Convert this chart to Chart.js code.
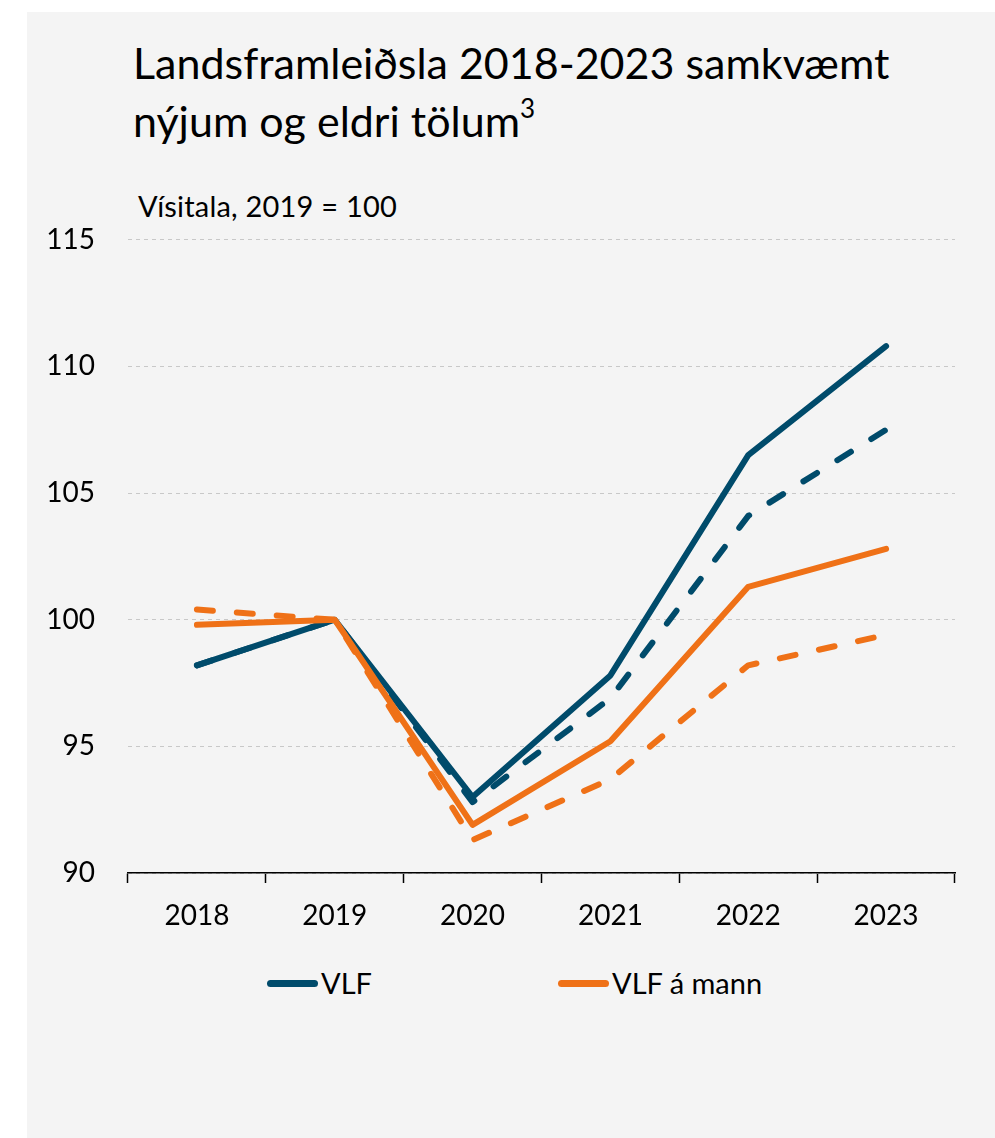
<!DOCTYPE html>
<html>
<head>
<meta charset="utf-8">
<script src="https://cdn.jsdelivr.net/npm/chart.js@4"></script>
<style>
	body { margin: 0; background: #fff; font-family: Lato, "Open Sans", sans-serif; color: #000; }
	#panel { position: absolute; left: 27px; top: 12px; width: 968px; height: 1126px; background: #f4f4f4; }
	#title { position: absolute; left: 133px; top: 34px; font-size: 43px; line-height: 58px; white-space: nowrap; }
	#title sup { font-size: 26px; line-height: 0; vertical-align: 19px; }
	#subtitle { position: absolute; left: 138px; top: 189px; font-size: 29px; line-height: 34px; letter-spacing: 0.2px; white-space: nowrap; }
	#chart { position: absolute; left: 27px; top: 190px; }
	#legend { position: absolute; left: 267px; top: 966px; display: flex; }
	.item { display: flex; align-items: center; font-size: 29px; line-height: 34px; }
	.item .swatch { width: 51px; height: 7px; border-radius: 4px; margin-right: 3px; }
</style>
</head>
<body>
<div id="panel"></div>
<div id="title">Landsframleiðsla 2018-2023 samkvæmt<br>nýjum og eldri tölum<sup>3</sup></div>
<div id="subtitle">Vísitala, 2019 = 100</div>
<canvas id="chart" width="968" height="765"></canvas>
<div id="legend"></div>
<script>
const years = ["2018", "2019", "2020", "2021", "2022", "2023"];
// nýjar tölur (heil lína) og eldri tölur (brotin lína)
const vlfNew = [98.2, 100, 93.0, 97.8, 106.5, 110.8];
const vlfOld = [98.2, 100, 92.8, 96.9, 104.1, 107.5];
const perCapitaNew = [99.8, 100, 91.9, 95.2, 101.3, 102.8];
const perCapitaOld = [100.4, 100, 91.3, 93.7, 98.2, 99.4];
const yTicks = [90, 95, 100, 105, 110, 115];

const blue = "#004b6b";
const orange = "#ef7117";
const tickFont = { family: "Lato", size: 28 };

function line(label, data, color, dashed, legend) {
	return {
		label: label,
		data: data,
		borderColor: color,
		backgroundColor: color,
		borderWidth: 6,
		borderDash: dashed ? [16, 24] : [],
		borderCapStyle: "round",
		borderJoinStyle: "round",
		pointRadius: 0,
		tension: 0,
		showInLegend: legend,
	};
}

function drawChart() {
	const ctx = document.getElementById("chart").getContext("2d");
	const chart = new Chart(ctx, {
		type: "line",
		data: {
			labels: years,
			datasets: [
				line("VLF á mann", perCapitaNew, orange, false, true),
				line("VLF á mann (eldri)", perCapitaOld, orange, true, false),
				line("VLF", vlfNew, blue, false, true),
				line("VLF (eldri)", vlfOld, blue, true, false),
			],
		},
		options: {
			responsive: false,
			animation: false,
			layout: { padding: { top: 33, right: 40, left: 0, bottom: 30 } },
			plugins: {
				legend: { display: false },
				tooltip: { enabled: false },
			},
			scales: {
				x: {
					offset: true,
					grid: {
						offset: true,
						drawOnChartArea: false,
						tickLength: 10,
						tickColor: "#000",
						tickWidth: 1.5,
					},
					border: { color: "#000", width: 1.5 },
					ticks: { font: tickFont, color: "#000", padding: 16 },
					afterFit: (s) => { s.height = 52; },
				},
				y: {
					min: 90,
					max: 115,
					afterBuildTicks: (s) => { s.ticks = yTicks.map((v) => ({ value: v })); },
					grid: { color: "#c8c8c8", lineWidth: 1, drawTicks: false },
					border: { display: false, dash: [4, 4] },
					ticks: { font: tickFont, color: "#000", padding: 33 },
					afterFit: (s) => { s.width = 101; },
				},
			},
		},
	});

	// legend: only the solid lines
	const legendBox = document.getElementById("legend");
	const widths = [291, 0];
	chart.data.datasets
		.filter((d) => d.showInLegend)
		.reverse()
		.forEach((d, i) => {
			const item = document.createElement("div");
			item.className = "item";
			if (widths[i]) item.style.width = widths[i] + "px";
			item.innerHTML =
				'<span class="swatch" style="background:' + d.borderColor + '"></span>' + d.label;
			legendBox.appendChild(item);
		});
}

document.fonts.load("28px Lato").then(drawChart, drawChart);
</script>
</body>
</html>
